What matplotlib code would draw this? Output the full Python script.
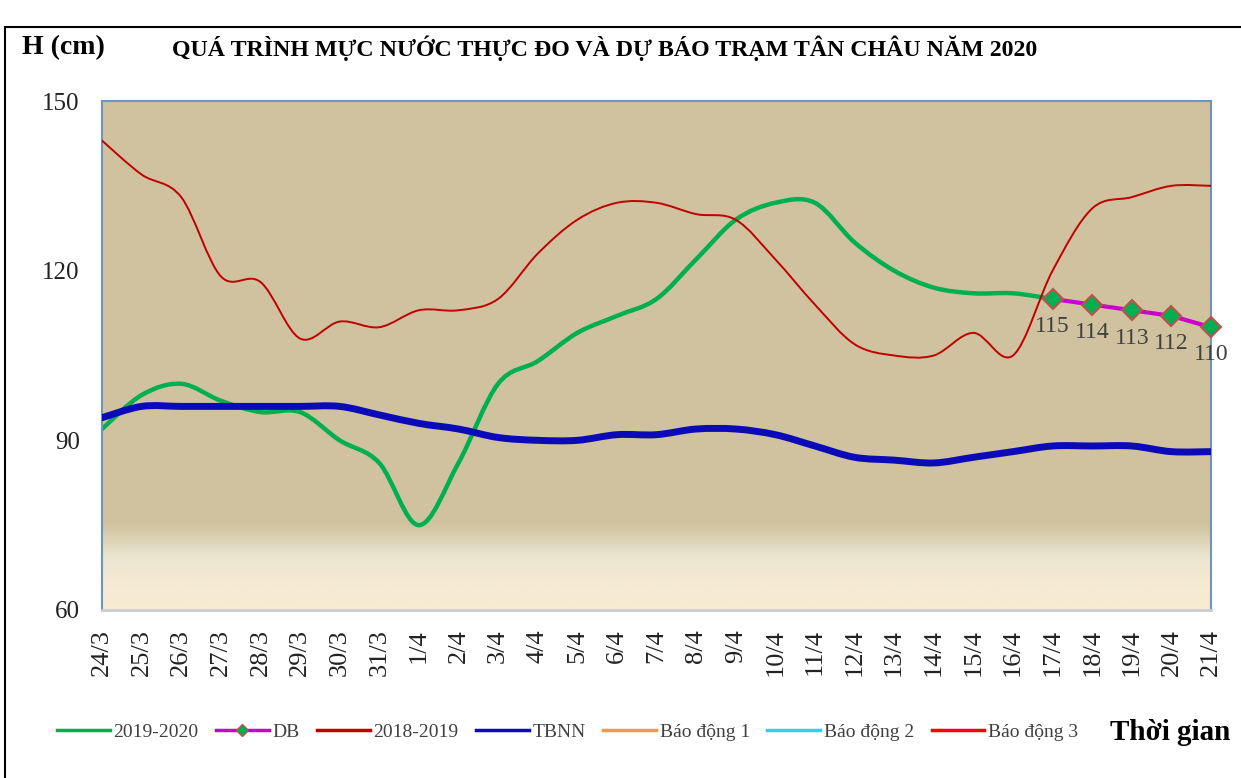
import numpy as np
import matplotlib
matplotlib.use('Agg')
import matplotlib.pyplot as plt
from matplotlib.path import Path
from matplotlib.patches import PathPatch
from matplotlib.lines import Line2D
from matplotlib.colors import LinearSegmentedColormap

# water level data (cm), Tan Chau station
dates = ['24/3', '25/3', '26/3', '27/3', '28/3', '29/3', '30/3', '31/3', '1/4', '2/4',
         '3/4', '4/4', '5/4', '6/4', '7/4', '8/4', '9/4', '10/4', '11/4', '12/4',
         '13/4', '14/4', '15/4', '16/4', '17/4', '18/4', '19/4', '20/4', '21/4']
h_2019_2020 = [92, 98, 100, 97, 95, 95, 90, 86, 75, 86, 100, 104, 109, 112, 115,
               122, 129, 132, 132, 125, 120, 117, 116, 116, 115]
db_dates = ['17/4', '18/4', '19/4', '20/4', '21/4']
h_db = [115, 114, 113, 112, 110]
h_2018_2019 = [143, 137, 133, 119, 118, 108, 111, 110, 113, 113, 115, 123, 129, 132, 132,
               130, 129, 122, 114, 107, 105, 105, 109, 105, 120, 131, 133, 135, 135]
h_tbnn = [94, 96, 96, 96, 96, 96, 96, 94.5, 93, 92, 90.5, 90, 90, 91, 91, 92, 92, 91,
          89, 87, 86.5, 86, 87, 88, 89, 89, 89, 88, 88]
bao_dong = [350, 400, 450]
bao_dong_names = ['Báo động 1', 'Báo động 2', 'Báo động 3']

plt.rcParams['font.family'] = ['Liberation Serif', 'DejaVu Serif']

C_GREEN = '#00B050'
C_MAG = '#CC00CC'
C_RED = '#C00000'
C_BLUE = '#0A0AB8'
C_BD = ['#F79646', '#33CCFF', '#FF0000']


def smooth_path(x, y):
    # excel-like smoothed line drawn as cubic bezier through the data points
    pts = np.column_stack([x, y]).astype(float)
    n = len(pts)
    verts = [pts[0]]
    codes = [Path.MOVETO]
    for i in range(n - 1):
        p0 = pts[i - 1] if i > 0 else pts[i]
        p1, p2 = pts[i], pts[i + 1]
        p3 = pts[i + 2] if i + 2 < n else pts[i + 1]
        verts += [p1 + (p2 - p0) / 6, p2 - (p3 - p1) / 6, p2]
        codes += [Path.CURVE4] * 3
    return Path(verts, codes)


def add_curve(ax, y, color, lw, z):
    x = np.arange(len(y))
    patch = PathPatch(smooth_path(x, y), fc='none', ec=color, lw=lw,
                      capstyle='round', joinstyle='round', zorder=z)
    ax.add_patch(patch)


fig = plt.figure(figsize=(12.41, 7.78), dpi=100)
ax = fig.add_axes([102 / 1241, 1 - 610 / 778, 1109 / 1241, 509 / 778])

# background gradient
cmap = LinearSegmentedColormap.from_list('bg', [(0, '#F8ECD2'), (0.06, '#F4E9D2'),
                                                (0.10, '#ECE6D0'), (0.165, '#D0C39F'),
                                                (1, '#D0C29F')])
grad = np.linspace(1, 0, 300).reshape(-1, 1)
ax.imshow(grad, extent=[0, 1, 0, 1], transform=ax.transAxes, aspect='auto',
          cmap=cmap, zorder=0, interpolation='bilinear')

xi = np.arange(len(dates))
for v, c in zip(bao_dong, C_BD):
    ax.axhline(v, color=c, lw=2, zorder=1)

add_curve(ax, h_2019_2020, C_GREEN, 3.2, 2)
add_curve(ax, h_2018_2019, C_RED, 1.4, 3)
add_curve(ax, h_tbnn, C_BLUE, 5.0, 4)

db_x = [dates.index(d) for d in db_dates]
ax.plot(db_x, h_db, color=C_MAG, lw=3, marker='D', ms=10, mfc=C_GREEN,
        mec='#C0504D', mew=1.5, zorder=6, clip_on=False)
for x, v in zip(db_x, h_db):
    ax.annotate(str(v), (x, v), xytext=(0, -20), textcoords='offset points',
                ha='center', va='center', fontsize=17, color='#404040', zorder=7)

ax.set_xlim(0, len(dates) - 1)
ax.set_ylim(60, 150)
ax.set_yticks([60, 90, 120, 150])
ax.set_xticks(xi)
ax.set_xticklabels(dates, rotation=90, fontsize=19, color='#222222')
ax.tick_params(axis='x', length=0, pad=14)
ax.tick_params(axis='y', length=0, pad=16, labelsize=18, labelcolor='#222222')

for side in ['left', 'top', 'right']:
    ax.spines[side].set_color('#6F93C5')
    ax.spines[side].set_linewidth(1.5)
ax.spines['bottom'].set_color('#C9CDD3')
ax.spines['bottom'].set_linewidth(2)

# titles
fig.text(22 / 1241, 1 - 48 / 778, 'H (cm)', fontsize=20, weight='bold', va='center')
fig.text(172 / 1241, 1 - 48 / 778,
         'QUÁ TRÌNH MỰC NƯỚC THỰC ĐO VÀ DỰ BÁO TRẠM TÂN CHÂU NĂM 2020',
         fontsize=17.2, weight='bold', va='center')
fig.text(1110 / 1241, 1 - 732 / 778, 'Thời gian', fontsize=21, weight='bold', va='center')

# legend
handles = [
    Line2D([], [], color=C_GREEN, lw=2.5),
    Line2D([], [], color=C_MAG, lw=2.5, marker='D', ms=6, mfc=C_GREEN, mec='#C0504D'),
    Line2D([], [], color=C_RED, lw=2.5),
    Line2D([], [], color=C_BLUE, lw=2.5),
] + [Line2D([], [], color=c, lw=2.5) for c in C_BD]
labels = ['2019-2020', 'DB', '2018-2019', 'TBNN'] + bao_dong_names
fig.legend(handles, labels, loc='center left', bbox_to_anchor=(57 / 1241, 1 - 732 / 778),
           ncol=7, frameon=False, fontsize=14, handlelength=2.7, handletextpad=0.2,
           columnspacing=0.9, borderpad=0, borderaxespad=0, labelcolor='#404040')

# outer frame
fig.add_artist(Line2D([5 / 1241, 5 / 1241], [0, 1 - 27 / 778], transform=fig.transFigure,
                      color='black', lw=1.5))
fig.add_artist(Line2D([5 / 1241, 1], [1 - 27 / 778, 1 - 27 / 778], transform=fig.transFigure,
                      color='black', lw=1.5))

fig.savefig('out.png', dpi=100)
